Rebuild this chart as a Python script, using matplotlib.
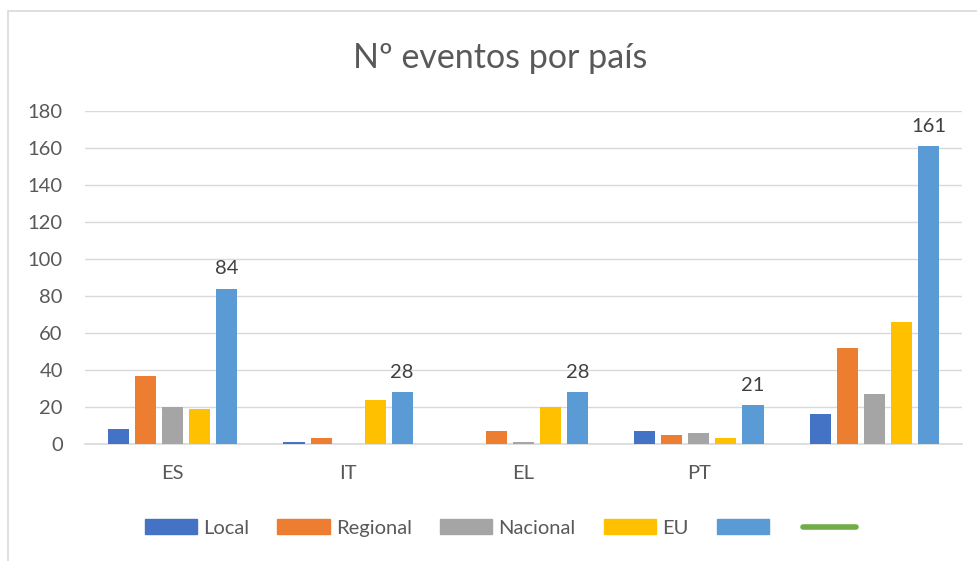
import numpy as np
import matplotlib.pyplot as plt
from matplotlib.patches import Rectangle, Patch
from matplotlib.lines import Line2D

plt.rcParams['font.family'] = ['Lato', 'DejaVu Sans']

categories = ["ES", "IT", "EL", "PT", ""]
local = [8, 1, 0, 7, 16]
regional = [37, 3, 7, 5, 52]
nacional = [20, 0, 1, 6, 27]
eu = [19, 24, 20, 3, 66]
total = [84, 28, 28, 21, 161]

series = [("Local", local, "#4472C4"),
          ("Regional", regional, "#ED7D31"),
          ("Nacional", nacional, "#A5A5A5"),
          ("EU", eu, "#FFC000"),
          ("", total, "#5B9BD5")]

fig = plt.figure(figsize=(9.77, 5.61), dpi=100)
ax = fig.add_axes([85/977, 1-444/561, 877/977, (444-111)/561])

x = np.arange(len(categories))
step = 27/175
width = 21/175
for i, (name, vals, col) in enumerate(series):
    pos = x + (i - 2) * step
    bars = ax.bar(pos, vals, width, color=col, label=name, zorder=3)
    if i == 4:
        for b, v in zip(bars, vals):
            ax.text(b.get_x() + b.get_width()/2, v + 6, str(v), ha='center', va='bottom',
                    fontsize=14.5, color='#404040')

ax.set_xlim(-0.5, len(categories) - 0.5)
ax.set_ylim(0, 180)
ax.set_yticks(range(0, 181, 20))
ax.set_xticks(x)
ax.set_xticklabels(categories)
ax.grid(axis='y', color='#D9D9D9', linewidth=1, zorder=0)
for s in ['top', 'right', 'left']:
    ax.spines[s].set_visible(False)
ax.spines['bottom'].set_color('#D9D9D9')
ax.spines['bottom'].set_linewidth(1.2)
ax.tick_params(axis='both', length=0, labelsize=14.5, colors='#595959')
ax.tick_params(axis='y', pad=16)
ax.tick_params(axis='x', pad=15)

fig.text(500/977, 1-58/561, "Nº eventos por país", ha='center', va='center',
         fontsize=24.5, color='#595959')

handles = [Patch(color=c) for _, _, c in series]
handles.append(Line2D([0], [0], color="#70AD47", linewidth=4, solid_capstyle='round'))
labels = ["Local", "Regional", "Nacional", "EU", "", ""]
fig.legend(handles, labels, loc='center', bbox_to_anchor=(0.515, 1-528/561), ncol=6,
           frameon=False, fontsize=14.5, labelcolor='#595959', handlelength=2.6,
           handleheight=0.7, columnspacing=1.4, handletextpad=0.3)

fig.patches.append(Rectangle((8/977, -0.05), 1.0, 1.05 - 11/561, transform=fig.transFigure,
                             fill=False, edgecolor='#D9D9D9', linewidth=1.2))

fig.savefig("out.png", dpi=100)
